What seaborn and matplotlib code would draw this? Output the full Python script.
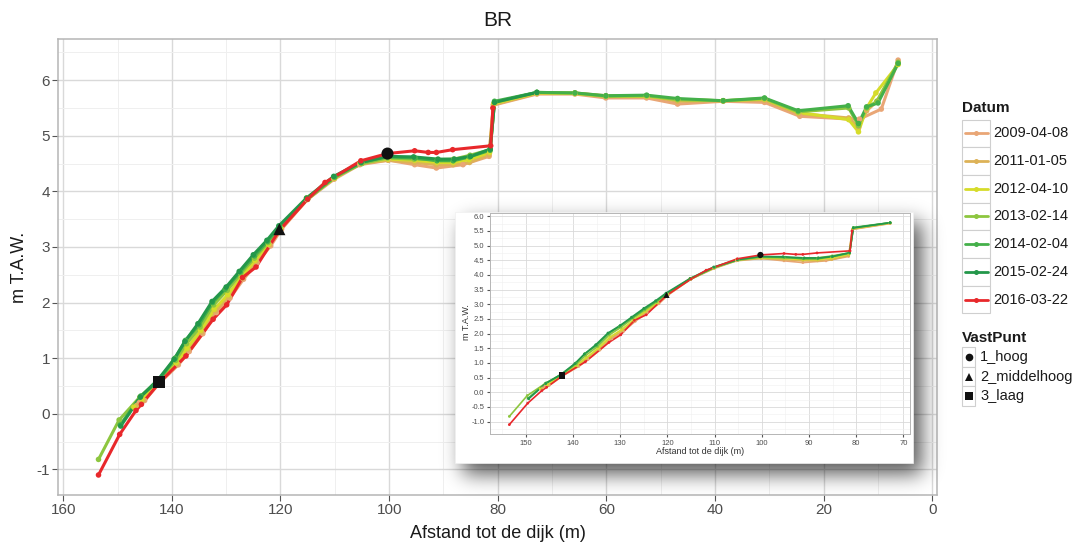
import math

import numpy as np
import pandas as pd
import matplotlib
matplotlib.use("Agg")
import matplotlib.pyplot as plt
from matplotlib.patches import Rectangle
from matplotlib.lines import Line2D
from matplotlib.ticker import MultipleLocator, FormatStrFormatter
import seaborn as sns

# ---------------------------------------------------------------------------
# Profile measurements: distance to the dike (m) and height (m T.A.W.)
# ---------------------------------------------------------------------------
DATES = ["2009-04-08", "2011-01-05", "2012-04-10", "2013-02-14",
         "2014-02-04", "2015-02-24", "2016-03-22"]
COLORS = ["#E9A676", "#DDB257", "#D6DC2A", "#8DC63F",
          "#44B04A", "#23974A", "#E8282B"]

X_2009 = [146.0, 145.0, 142.2, 138.8, 136.8, 134.3, 131.8, 129.3, 126.8, 124.3,
          121.8, 119.8, 115.1, 110.1, 105.4, 100.1, 95.3, 91.3, 86.4, 81.6,
          80.8, 72.8, 65.8, 60.1, 52.6, 46.9, 38.5, 30.9, 24.4, 15.2,
          13.4, 9.4, 6.3]
Y_2009 = [0.20, 0.24, 0.56, 0.88, 1.12, 1.44, 1.82, 2.08, 2.42, 2.72,
          3.02, 3.32, 3.85, 4.22, 4.48, 4.56, 4.48, 4.42, 4.48, 4.63,
          5.55, 5.75, 5.75, 5.68, 5.68, 5.57, 5.62, 5.60, 5.35, 5.30,
          5.30, 5.48, 6.36]

X_2011 = [146.5, 145.3, 142.2, 139.0, 137.0, 134.5, 132.0, 129.5, 127.0, 124.5,
          122.0, 119.9, 115.0, 110.2, 105.3, 100.2, 95.3, 91.3, 88.2, 85.2,
          81.6, 80.8, 72.8, 65.8, 60.1, 52.6, 46.9, 38.5, 30.9, 24.6,
          15.4, 13.6, 12.1, 10.2, 6.3]
Y_2011 = [0.15, 0.24, 0.57, 0.90, 1.16, 1.47, 1.85, 2.10, 2.44, 2.74,
          3.04, 3.33, 3.86, 4.23, 4.50, 4.56, 4.52, 4.48, 4.48, 4.52,
          4.66, 5.56, 5.76, 5.77, 5.72, 5.72, 5.62, 5.63, 5.64, 5.40,
          5.32, 5.15, 5.45, 5.62, 6.30]

X_2012 = [147.0, 145.5, 142.3, 139.2, 137.2, 134.7, 132.2, 129.7, 127.2, 124.7,
          122.2, 120.0, 115.2, 110.0, 105.3, 100.2, 95.3, 91.2, 88.2, 85.3,
          81.5, 80.7, 72.8, 65.8, 60.1, 52.6, 46.9, 38.5, 30.9, 24.7,
          15.4, 13.6, 12.1, 10.4, 6.3]
Y_2012 = [0.12, 0.26, 0.58, 0.92, 1.18, 1.50, 1.88, 2.14, 2.46, 2.76,
          3.05, 3.34, 3.88, 4.24, 4.52, 4.58, 4.56, 4.52, 4.52, 4.57,
          4.70, 5.58, 5.77, 5.76, 5.71, 5.71, 5.65, 5.63, 5.66, 5.42,
          5.29, 5.07, 5.50, 5.77, 6.28]

X_2013 = [153.5, 149.7, 145.9, 142.4, 139.3, 137.3, 134.8, 132.3, 129.8, 127.3,
          124.8, 122.3, 120.1, 115.0, 110.1, 105.0, 100.3, 95.4, 91.1, 88.1,
          85.1, 81.4, 80.6, 72.8, 65.8, 60.1, 52.6, 46.9, 38.5, 30.9,
          24.7, 15.4, 13.6, 12.1, 10.2, 6.3]
Y_2013 = [-0.82, -0.11, 0.30, 0.62, 0.96, 1.26, 1.56, 1.96, 2.22, 2.52,
          2.80, 3.08, 3.36, 3.86, 4.25, 4.50, 4.60, 4.58, 4.57, 4.58,
          4.65, 4.75, 5.60, 5.78, 5.77, 5.71, 5.72, 5.65, 5.63, 5.67,
          5.43, 5.50, 5.18, 5.50, 5.62, 6.32]

X_2014 = [149.5, 145.7, 142.4, 139.4, 137.5, 135.0, 132.5, 130.2, 127.4, 124.8,
          122.4, 120.2, 115.1, 110.0, 105.1, 100.4, 95.2, 91.2, 88.2, 85.2,
          81.4, 80.6, 72.8, 65.8, 60.1, 52.6, 46.9, 38.5, 30.9, 24.7,
          15.5, 13.6, 12.1, 10.0, 6.3]
Y_2014 = [-0.20, 0.32, 0.60, 1.00, 1.32, 1.60, 2.00, 2.24, 2.55, 2.84,
          3.10, 3.36, 3.87, 4.26, 4.52, 4.62, 4.60, 4.55, 4.55, 4.62,
          4.74, 5.62, 5.78, 5.77, 5.72, 5.73, 5.67, 5.63, 5.68, 5.45,
          5.54, 5.22, 5.52, 5.59, 6.30]

X_2015 = [149.4, 145.8, 142.5, 139.6, 137.6, 135.2, 132.6, 130.0, 127.6, 125.0,
          122.5, 120.3, 115.2, 110.2, 105.2, 100.3, 95.5, 91.0, 88.0, 85.0,
          81.4, 80.6, 72.8]
Y_2015 = [-0.22, 0.30, 0.62, 0.98, 1.30, 1.62, 2.02, 2.28, 2.56, 2.86,
          3.12, 3.38, 3.88, 4.27, 4.52, 4.63, 4.62, 4.58, 4.58, 4.63,
          4.76, 5.60, 5.78]

X_2016 = [153.5, 149.6, 146.6, 145.6, 142.3, 137.4, 132.4, 129.9, 127.0, 124.5,
          120.2, 115.0, 111.8, 105.2, 100.3, 95.3, 92.8, 91.3, 88.3, 81.3,
          80.9]
Y_2016 = [-1.10, -0.37, 0.06, 0.17, 0.56, 1.04, 1.70, 1.96, 2.45, 2.64,
          3.30, 3.86, 4.16, 4.55, 4.68, 4.73, 4.70, 4.70, 4.75, 4.82,
          5.50]

# Fixed reference points
VP_NAMES = ["1_hoog", "2_middelhoog", "3_laag"]
VP_X = [100.3, 120.2, 142.3]
VP_Y = [4.68, 3.32, 0.57]
VP_MARKERS = {"1_hoog": "o", "2_middelhoog": "^", "3_laag": "s"}

XS = [X_2009, X_2011, X_2012, X_2013, X_2014, X_2015, X_2016]
YS = [Y_2009, Y_2011, Y_2012, Y_2013, Y_2014, Y_2015, Y_2016]

rows = []
for d, xs, ys in zip(DATES, XS, YS):
    for xv, yv in zip(xs, ys):
        rows.append((d, xv, yv))
df = pd.DataFrame(rows, columns=["Datum", "afstand", "hoogte"])
vp = pd.DataFrame({"afstand": VP_X, "hoogte": VP_Y, "VastPunt": VP_NAMES})
palette = dict(zip(DATES, COLORS))

# ---------------------------------------------------------------------------
# Figure setup
# ---------------------------------------------------------------------------
sns.set_theme(style="whitegrid")
plt.rcParams["font.family"] = ["Liberation Sans", "DejaVu Sans"]
plt.rcParams["axes.unicode_minus"] = False

W_PX, H_PX = 1089, 543
fig = plt.figure(figsize=(W_PX / 100, H_PX / 100), dpi=100)
fig.patch.set_facecolor("white")


def px_box(x0, y0, x1, y1):
    """Axes rectangle from pixel corners (origin top-left)."""
    return [x0 / W_PX, 1 - y1 / H_PX, (x1 - x0) / W_PX, (y1 - y0) / H_PX]


GRID_MAJOR = "#D9D9D9"
GRID_MINOR = "#EFEFEF"
FRAME = "#B5B5B5"
TICK_TXT = "#4D4D4D"


def style_axes(a, lw_major, lw_minor, tick_len, label_size):
    a.set_facecolor("white")
    a.grid(which="major", color=GRID_MAJOR, lw=lw_major)
    a.grid(which="minor", color=GRID_MINOR, lw=lw_minor)
    a.set_axisbelow(True)
    for s in a.spines.values():
        s.set_color(FRAME)
        s.set_linewidth(1.1)
    a.tick_params(which="major", bottom=True, left=True, direction="out",
                  length=tick_len, width=0.8, color="#555555",
                  labelsize=label_size, labelcolor=TICK_TXT, pad=2)
    a.tick_params(which="minor", bottom=False, left=False)
    a.set_xlabel("")
    a.set_ylabel("")


def draw_profiles(a, data, lw, ms, vp_size):
    sns.lineplot(data=data, x="afstand", y="hoogte", hue="Datum",
                 hue_order=DATES, palette=palette, sort=False, estimator=None,
                 lw=lw, legend=False, ax=a)
    sns.scatterplot(data=data, x="afstand", y="hoogte", hue="Datum",
                    hue_order=DATES, palette=palette, s=ms, linewidth=0,
                    legend=False, ax=a, zorder=3)
    sns.scatterplot(data=vp, x="afstand", y="hoogte", style="VastPunt",
                    markers=VP_MARKERS, color="#111111", s=vp_size,
                    linewidth=0, legend=False, ax=a, zorder=4)


# ---------------------------------------------------------------------------
# Main panel
# ---------------------------------------------------------------------------
ax = fig.add_axes(px_box(58.3, 39, 936.7, 495), zorder=0)
draw_profiles(ax, df, lw=2.2, ms=16, vp_size=75)
ax.set_xlim(160.9, -0.8)
ax.set_ylim(-1.46, 6.74)
ax.xaxis.set_major_locator(MultipleLocator(20))
ax.xaxis.set_minor_locator(MultipleLocator(10))
ax.yaxis.set_major_locator(MultipleLocator(1))
ax.yaxis.set_minor_locator(MultipleLocator(0.5))
style_axes(ax, 1.0, 0.7, 4, 11)

# ---------------------------------------------------------------------------
# Overlay in pixel coordinates: shadow, inset card, titles and legends
# ---------------------------------------------------------------------------
ov = fig.add_axes([0, 0, 1, 1], zorder=1)
ov.set_xlim(0, W_PX)
ov.set_ylim(H_PX, 0)
ov.axis("off")

CARD = (455, 212, 912.7, 463)
erf = np.vectorize(math.erf)


def soft_step(c, a, b, sigma):
    k = sigma * math.sqrt(2)
    return 0.5 * (erf((c - a) / k) - erf((c - b) / k))


gx = soft_step(np.arange(W_PX) + 0.5, CARD[0] + 8, CARD[2] + 9, 10)
gy = soft_step(np.arange(H_PX) + 0.5, CARD[1] + 10, CARD[3] + 11, 10)
shade = np.zeros((H_PX, W_PX, 4))
shade[..., 3] = 0.66 * np.outer(gy, gx)
ov.imshow(shade, extent=(0, W_PX, H_PX, 0), aspect="auto",
          interpolation="bilinear", zorder=0)
ov.add_patch(Rectangle((CARD[0], CARD[1]), CARD[2] - CARD[0], CARD[3] - CARD[1],
                       facecolor="white", edgecolor="#F0F0F0", lw=0.5, zorder=1))

TXT = "#1A1A1A"
ov.text(497.5, 21, "BR", ha="center", va="center", fontsize=15, color=TXT)
ov.text(497.5, 533, "Afstand tot de dijk (m)", ha="center", va="center",
        fontsize=13, color=TXT)
ov.text(20, 267, "m T.A.W.", ha="center", va="center", rotation=90,
        fontsize=13, color=TXT)

# inset axis titles
ov.text(700, 452, "Afstand tot de dijk (m)", ha="center", va="center",
        fontsize=6.5, color="#333333", zorder=3)
ov.text(466.5, 322, "m T.A.W.", ha="center", va="center", rotation=90,
        fontsize=6.5, color="#333333", zorder=3)

# legend: Datum
ov.text(962, 108, "Datum", ha="left", va="center", fontsize=11,
        fontweight="bold", color=TXT)
key_h = 27.7
top = 119.5
for i, (d, c) in enumerate(zip(DATES, COLORS)):
    y0 = top + i * key_h
    ov.add_patch(Rectangle((962, y0), 28, key_h, facecolor="white",
                           edgecolor="#CFCFCF", lw=0.8))
    yc = y0 + key_h / 2
    ov.add_line(Line2D([964.5, 987.5], [yc, yc], color=c, lw=2.0))
    ov.add_line(Line2D([976], [yc], marker="o", ms=3.6, color=c, mew=0))
    ov.text(993, yc, d, ha="left", va="center", fontsize=10.5, color=TXT)

# legend: VastPunt
ov.text(962, 338, "VastPunt", ha="left", va="center", fontsize=11,
        fontweight="bold", color=TXT)
vk_h = 19.7
vtop = 347
for i, name in enumerate(VP_NAMES):
    y0 = vtop + i * vk_h
    ov.add_patch(Rectangle((962, y0), 13, vk_h, facecolor="white",
                           edgecolor="#CFCFCF", lw=0.8))
    yc = y0 + vk_h / 2
    ov.add_line(Line2D([968.5], [yc], marker=VP_MARKERS[name], ms=5.5,
                       color="#111111", mew=0))
    ov.text(980, yc, name, ha="left", va="center", fontsize=10.5, color=TXT)

# ---------------------------------------------------------------------------
# Inset: detail of the lower profile
# ---------------------------------------------------------------------------
ins = fig.add_axes(px_box(490, 213, 910, 434), zorder=3)
draw_profiles(ins, df[df["afstand"] >= 72], lw=1.2, ms=4, vp_size=20)
ins.set_xlim(157.6, 68.6)
ins.set_ylim(-1.42, 6.11)
ins.xaxis.set_major_locator(MultipleLocator(10))
ins.xaxis.set_minor_locator(MultipleLocator(5))
ins.yaxis.set_major_locator(MultipleLocator(0.5))
ins.yaxis.set_minor_locator(MultipleLocator(0.25))
ins.yaxis.set_major_formatter(FormatStrFormatter("%.1f"))
style_axes(ins, 0.6, 0.4, 2, 5.5)
for s in ins.spines.values():
    s.set_linewidth(0.7)

fig.savefig("out.png", dpi=100, facecolor="white")
